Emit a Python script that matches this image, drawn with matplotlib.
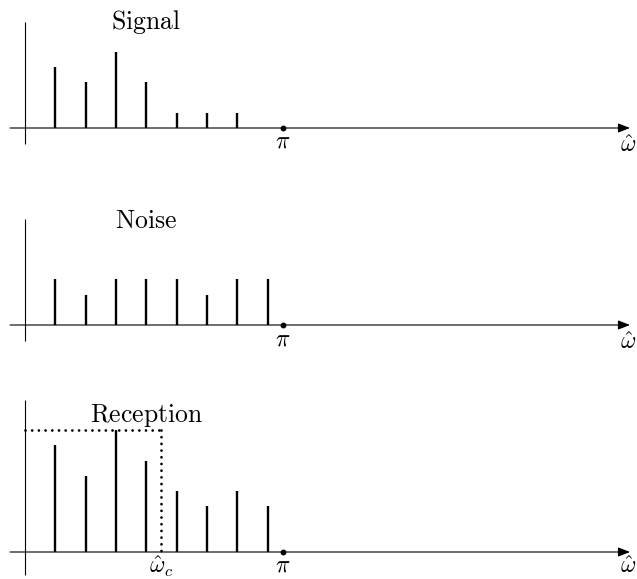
import matplotlib
matplotlib.use("Agg")
import matplotlib.pyplot as plt

plt.rcParams['mathtext.fontset'] = 'cm'

# ---- data ----
signal = [4, 3, 5, 3, 1, 1, 1]
noise = [3, 2, 3, 3, 3, 2, 3, 3]
reception = [7, 5, 8, 6, 4, 3, 4, 3]
titles = [r'$\mathrm{Signal}$', r'$\mathrm{Noise}$', r'$\mathrm{Reception}$']
pi_pos = 8.5
cutoff = 4.5
cutoff_level = 8

W, H = 637, 579
U = 30.33   # px per x unit
V = 15.25   # px per y unit
x0 = 25     # px of vertical axis

fig = plt.figure(figsize=(W / 100, H / 100), dpi=100)

# (band top px, band bottom px, baseline px, vaxis top px, vaxis bottom px, title baseline px)
panels = [
    (0, 193, 128, 22, 144, 29),
    (193, 386, 325, 219, 341, 228),
    (386, 579, 552, 400, 575, 422),
]
series = [signal, noise, reception]

for i, (top, bot, base, vtop, vbot, tb) in enumerate(panels):
    ax = fig.add_axes([0, 1 - bot / H, 1, (bot - top) / H])
    ax.set_xlim(-x0 / U, (W - x0) / U)
    ax.set_ylim(-(bot - base) / V, (base - top) / V)
    ax.axis('off')

    vals = series[i]
    ks = list(range(1, len(vals) + 1))
    ax.vlines(ks, 0, vals, colors='black', linewidth=1.7)

    # vertical axis
    ax.plot([0, 0], [-(vbot - base) / V, (base - vtop) / V], color='black', lw=0.8,
            solid_capstyle='butt')
    # horizontal axis with arrow
    ax.annotate('', xy=((630 - x0) / U, 0), xytext=((10 - x0) / U, 0),
                arrowprops=dict(arrowstyle='-|>,head_length=0.36,head_width=0.14',
                                mutation_scale=20, lw=0.8, color='black',
                                shrinkA=0, shrinkB=0))
    # pi marker
    ax.plot([pi_pos], [0], 'o', color='black', markersize=3.2)
    ax.text(pi_pos, -20 / V, r'$\pi$', ha='center', va='baseline', fontsize=17)
    wy = -24 / V if i < 2 else -21 / V
    ax.text((628 - x0) / U, wy, r'$\hat{\omega}$', ha='center', va='baseline',
            fontsize=17)
    ax.text(4.0, (base - tb) / V, titles[i], ha='center', va='baseline', fontsize=18.5)

    if i == 2:
        dot_style = dict(color='black', lw=2.0, linestyle=(0, (0.01, 2.4)),
                         dash_capstyle='round')
        ax.plot([0, cutoff], [cutoff_level, cutoff_level], **dot_style)
        ax.plot([cutoff, cutoff], [cutoff_level, 0], **dot_style)
        ax.text(cutoff, -21 / V, r'$\hat{\omega}_c$', ha='center', va='baseline',
                fontsize=17)

fig.savefig('out.png', dpi=100)
